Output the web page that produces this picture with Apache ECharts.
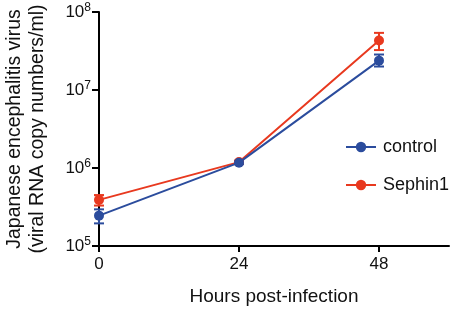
<!DOCTYPE html>
<html>
<head>
<meta charset="utf-8">
<script src="https://cdn.jsdelivr.net/npm/echarts@6/dist/echarts.min.js"></script>
<style>
  html, body { margin: 0; padding: 0; background: #fff; }
  #chart-area { width: 453px; height: 311px; }
</style>
</head>
<body>
<div id="chart-area"></div>
<script>
// 数据
var hours = [0, 24, 48]
var xTicks = [0, 24, 48]
var controlMean = [2.45e5, 1.17e6, 2.38e7]
var controlLow = [1.95e5, 1.12e6, 2.0e7]
var controlHigh = [2.95e5, 1.22e6, 2.85e7]
var sephinMean = [3.9e5, 1.19e6, 4.3e7]
var sephinLow = [3.3e5, 1.14e6, 3.25e7]
var sephinHigh = [4.5e5, 1.24e6, 5.4e7]

var BLUE = '#2b4c9d'
var RED = '#e8391f'
var FONT = 'Liberation Sans, Arial, sans-serif'

function pairs(xs, ys) {
  return xs.map(function (x, i) { return [x, ys[i]] })
}

// 误差线（自定义系列）
function errBars(name, color, low, high) {
  return {
    name: name,
    type: 'custom',
    z: 3,
    color: color,
    data: hours.map(function (h, i) { return [h, low[i], high[i]] }),
    renderItem: function (params, api) {
      var lo = api.coord([api.value(0), api.value(1)])
      var hi = api.coord([api.value(0), api.value(2)])
      var w = 5
      var st = { stroke: color, lineWidth: 2 }
      return {
        type: 'group',
        children: [
          { type: 'line', shape: { x1: lo[0], y1: lo[1], x2: hi[0], y2: hi[1] }, style: st },
          { type: 'line', shape: { x1: lo[0] - w, y1: lo[1], x2: lo[0] + w, y2: lo[1] }, style: st },
          { type: 'line', shape: { x1: hi[0] - w, y1: hi[1], x2: hi[0] + w, y2: hi[1] }, style: st }
        ]
      }
    }
  }
}

var chart = echarts.init(document.getElementById('chart-area'))
chart.setOption({
  animation: false,
  textStyle: { fontFamily: FONT },
  grid: { left: 99, top: 12, right: 4, bottom: 65, containLabel: false, outerBoundsMode: 'none' },
  legend: {
    orient: 'vertical',
    left: 340,
    top: 133,
    itemWidth: 30,
    itemHeight: 13,
    itemGap: 20,
    data: ['control', 'Sephin1'],
    textStyle: { fontSize: 18, color: '#111', fontFamily: FONT, padding: [0, 0, 0, 2] }
  },
  xAxis: {
    type: 'value',
    min: 0,
    max: 60,
    interval: 12,
    name: 'Hours post-infection',
    nameLocation: 'middle',
    nameGap: 41,
    nameTextStyle: { fontSize: 19, color: '#111', fontFamily: FONT },
    splitLine: { show: false },
    axisLine: { lineStyle: { color: '#000', width: 2 } },
    axisTick: { customValues: xTicks, length: 6, lineStyle: { color: '#000', width: 2 } },
    axisLabel: { customValues: xTicks, fontSize: 17, color: '#111', margin: 10, fontFamily: FONT }
  },
  yAxis: {
    type: 'log',
    logBase: 10,
    min: 1e5,
    max: 1e8,
    name: 'Japanese encephalitis virus\n(viral RNA copy numbers/ml)',
    nameLocation: 'middle',
    nameRotate: 90,
    nameGap: 50,
    nameTextStyle: { fontSize: 19.5, color: '#111', lineHeight: 23, fontFamily: FONT },
    splitLine: { show: false },
    minorTick: { show: false },
    axisLine: { show: true, lineStyle: { color: '#000', width: 2 } },
    axisTick: { show: true, length: 7, lineStyle: { color: '#000', width: 2 } },
    axisLabel: {
      margin: 8,
      formatter: function (v) {
        return '{b|10}{s|' + Math.round(Math.log10(v)) + '}'
      },
      rich: {
        b: { fontSize: 17, color: '#111', fontFamily: FONT },
        s: { fontSize: 12, color: '#111', fontFamily: FONT, padding: [0, 0, 9, 0] }
      }
    }
  },
  series: [
    errBars('Sephin1 err', RED, sephinLow, sephinHigh),
    {
      name: 'Sephin1',
      type: 'line',
      z: 4,
      data: pairs(hours, sephinMean),
      color: RED,
      symbol: 'circle',
      symbolSize: 10,
      lineStyle: { width: 2, color: RED },
      itemStyle: { color: RED }
    },
    errBars('control err', BLUE, controlLow, controlHigh),
    {
      name: 'control',
      type: 'line',
      z: 5,
      data: pairs(hours, controlMean),
      color: BLUE,
      symbol: 'circle',
      symbolSize: 10,
      lineStyle: { width: 2, color: BLUE },
      itemStyle: { color: BLUE }
    }
  ]
})
</script>
</body>
</html>
